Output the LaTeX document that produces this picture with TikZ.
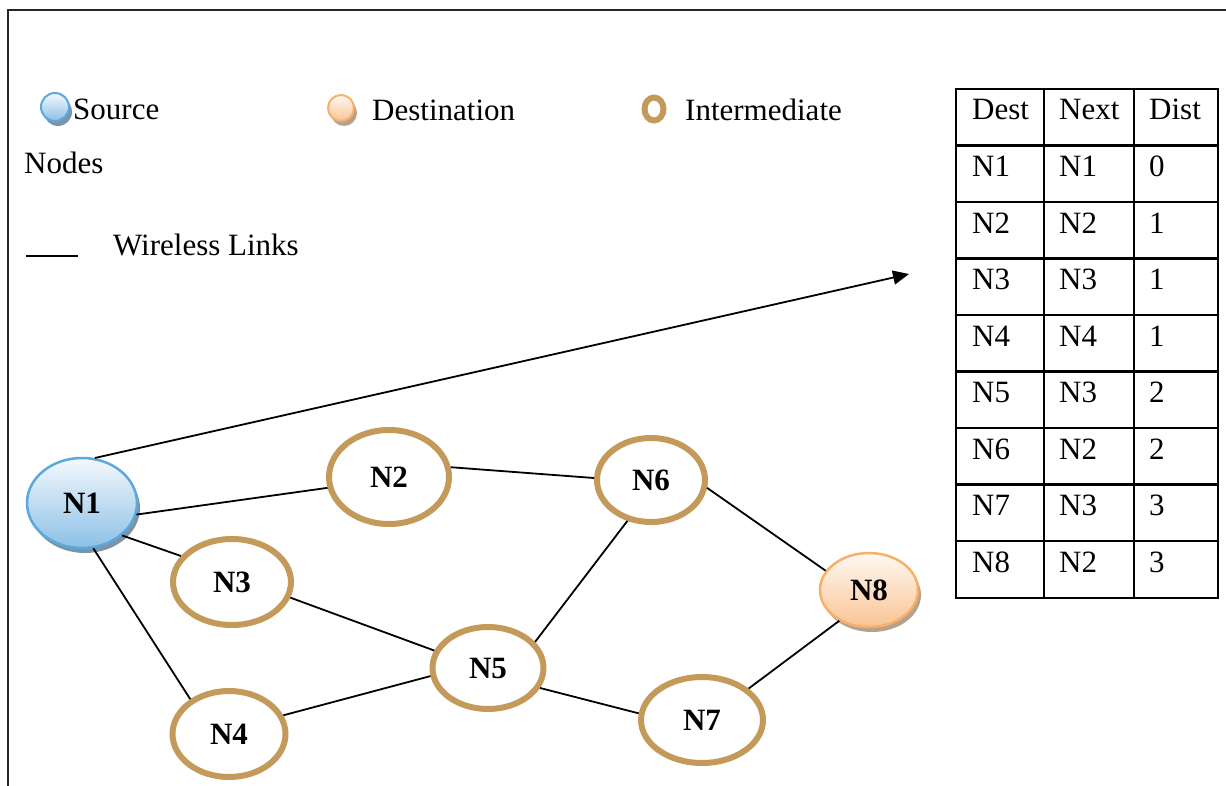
\documentclass[tikz,border=0pt]{standalone}
\usepackage{fontspec}
\setmainfont{Liberation Serif}
\usetikzlibrary{shapes.geometric,shadows,arrows.meta}
\definecolor{brownring}{HTML}{C49A5A}
\definecolor{srcline}{HTML}{5BA8DC}
\definecolor{srctop}{HTML}{F4F9FD}
\definecolor{srcbot}{HTML}{8CC0E6}
\definecolor{srcshadow}{HTML}{7D93A8}
\definecolor{dstline}{HTML}{F7B06A}
\definecolor{dsttop}{HTML}{FFF8F2}
\definecolor{dstbot}{HTML}{F9C494}
\definecolor{dstshadow}{HTML}{B5A28C}
\tikzset{
  bigtext/.style={font=\fontsize{31}{36}\selectfont},
  nodetext/.style={font=\fontsize{31}{35}\selectfont\bfseries},
  inter/.style={ellipse, draw=brownring, line width=6pt, fill=white, inner sep=0pt, nodetext},
  source/.style={ellipse, draw=srcline, line width=2.5pt, top color=srctop, bottom color=srcbot,
    inner sep=0pt, nodetext,
    drop shadow={shadow xshift=3pt, shadow yshift=-5pt, fill=srcshadow, opacity=1}},
  dest/.style={ellipse, draw=dstline, line width=2.5pt, top color=dsttop, bottom color=dstbot,
    inner sep=0pt, nodetext,
    drop shadow={shadow xshift=3pt, shadow yshift=-5pt, fill=dstshadow, opacity=1}},
  link/.style={draw=black, line width=1.8pt},
  cell/.style={bigtext, anchor=base west, inner sep=0pt},
  legtext/.style={bigtext, anchor=base west, inner sep=0pt},
  tabline/.style={line width=2.5pt, line cap=rect}
}
\begin{document}
\begin{tikzpicture}[x=1pt,y=-1pt]
\useasboundingbox (0,0) rectangle (1226,786);
% outer frame (top and left sides)
\draw[line width=1.5pt, black!85] (8,786) -- (8,10) -- (1226,10);

% legend
\node[source, minimum width=28pt, minimum height=28pt, line width=2pt,
  drop shadow={shadow xshift=2pt, shadow yshift=-3pt, fill=srcshadow, opacity=1}] (legsrc) at (55,107) {};
\node[legtext] (legsrctxt) at (73,120) {Source};
\node[dest, minimum width=26pt, minimum height=26pt, line width=2pt,
  drop shadow={shadow xshift=2pt, shadow yshift=-3pt, fill=dstshadow, opacity=1}] (legdst) at (341,108) {};
\node[legtext] (legdsttxt) at (372,121) {Destination};
\node[inter, minimum width=19pt, minimum height=23pt, line width=6pt] (legint) at (654,109) {};
\node[legtext] (leginttxt) at (685,121) {Intermediate};
\node[legtext] (legnodes) at (24,174) {Nodes};
\coordinate (legla) at (26,256);
\coordinate (leglb) at (78,256);
\draw[line width=1.8pt] (legla) -- (leglb);
\node[legtext] (leglink) at (113,256) {Wireless Links};

% network nodes
\node[source, minimum width=110pt, minimum height=90pt] (N1) at (82,503) {N1};
\node[inter, minimum width=120pt, minimum height=94pt] (N2) at (389,477) {N2};
\node[inter, minimum width=118pt, minimum height=86pt] (N3) at (232,582) {N3};
\node[inter, minimum width=113pt, minimum height=86pt] (N4) at (229,734) {N4};
\node[inter, minimum width=111pt, minimum height=82pt] (N5) at (488,668) {N5};
\node[inter, minimum width=108pt, minimum height=84pt] (N6) at (651,480) {N6};
\node[inter, minimum width=122pt, minimum height=86pt] (N7) at (702,720) {N7};
\node[dest, minimum width=98pt, minimum height=74pt] (N8) at (869,590) {N8};

% wireless links
\draw[link] (N1.-12) -- (N2.190);
\draw[link] (N1.-39) -- (N3.153);
\draw[link] (N1.-76) -- (N4.138);
\draw[link] (N2.9) -- (N6.178);
\draw[link] (N3.-15) -- (N5.162);
\draw[link] (N4.19) -- (N5.188);
\draw[link] (N5.29) -- (N6.240);
\draw[link] (N5.-21) -- (N7.174);
\draw[link] (N6.-8) -- (N8.156);
\draw[link] (N7.34) -- (N8.226);

% pointer to the routing table
\coordinate (tabptr) at (909,274);
\draw[link, -{Triangle[length=16pt,width=14pt]}] (N1.74) -- (tabptr);

% routing table
\foreach \y in {89,145.5,202,258.5,315,371.5,428,484.5,541,598}
  \draw[tabline] (956,\y) -- (1218,\y);
\foreach \x in {956,1044,1134,1218}
  \draw[tabline] (\x,89) -- (\x,598);
\foreach \a/\b/\c [count=\i from 0] in {Dest/Next/Dist, N1/N1/0, N2/N2/1, N3/N3/1,
    N4/N4/1, N5/N3/2, N6/N2/2, N7/N3/3, N8/N2/3} {
  \pgfmathsetmacro{\base}{89+31+56.55*\i}
  \node[cell] (ta\i) at (972,\base) {\a};
  \node[cell] (tb\i) at (1059,\base) {\b};
  \node[cell] (tc\i) at (1149,\base) {\c};
}
\end{tikzpicture}
\end{document}
